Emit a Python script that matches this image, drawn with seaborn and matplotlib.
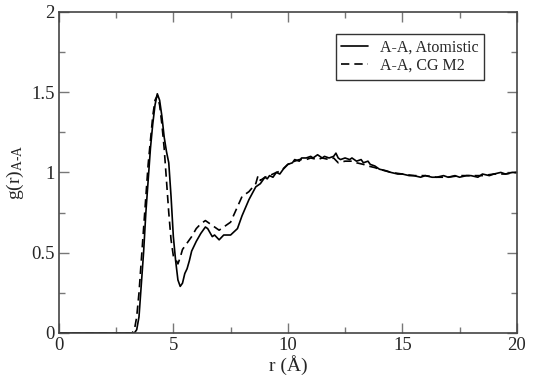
import numpy as np
import pandas as pd
import matplotlib
matplotlib.use('Agg')
import matplotlib.pyplot as plt
import seaborn as sns
from matplotlib.ticker import MultipleLocator

# Radial distribution data
r_atom = [0.0, 1.0, 2.0, 3.0, 3.3, 3.4, 3.5, 3.6, 3.7, 3.8, 3.9, 4.0, 4.1, 4.2, 4.3,
          4.4, 4.5, 4.6, 4.7, 4.8, 4.9, 5.0, 5.1, 5.2, 5.3, 5.4, 5.5, 5.6, 5.7,
          5.8, 6.0, 6.2, 6.4, 6.5, 6.7, 6.8, 7.0, 7.2, 7.5, 7.8, 8.0, 8.3, 8.6,
          8.8, 9.0, 9.1, 9.2, 9.35, 9.5, 9.65, 9.8, 10.0, 10.2, 10.3, 10.5, 10.6,
          10.8, 11.0, 11.1, 11.3, 11.5, 11.6, 11.8, 12.0, 12.1, 12.2, 12.3, 12.5,
          12.7, 12.8, 13.0, 13.2, 13.3, 13.5, 13.6, 13.8, 14.0, 14.3, 14.5, 14.8,
          15.0, 15.3, 15.5, 15.8, 16.0, 16.3, 16.5, 16.8, 17.0, 17.3, 17.5, 17.8,
          18.0, 18.3, 18.5, 18.8, 19.0, 19.3, 19.5, 19.8, 20.0]
g_atom = [0.0, 0.0, 0.0, 0.0, 0.0, 0.02, 0.1, 0.3, 0.5, 0.75, 0.95, 1.15, 1.3, 1.42, 1.49,
          1.45, 1.35, 1.22, 1.13, 1.06, 0.85, 0.6, 0.45, 0.33, 0.29, 0.31, 0.37, 0.40, 0.45,
          0.51, 0.57, 0.62, 0.66, 0.65, 0.60, 0.61, 0.58, 0.61, 0.61, 0.65, 0.73, 0.83, 0.91,
          0.93, 0.97, 0.96, 0.98, 0.97, 1.00, 0.99, 1.02, 1.05, 1.06, 1.08, 1.07, 1.09,
          1.09, 1.10, 1.09, 1.11, 1.09, 1.10, 1.09, 1.10, 1.12, 1.09, 1.08, 1.09,
          1.08, 1.09, 1.07, 1.08, 1.06, 1.07, 1.05, 1.04, 1.02, 1.01, 1.00, 0.99,
          0.99, 0.98, 0.98, 0.97, 0.98, 0.97, 0.97, 0.98, 0.97, 0.98, 0.97, 0.98,
          0.98, 0.97, 0.99, 0.98, 0.99, 1.00, 0.99, 1.00, 1.00]

r_cg = [0.0, 1.0, 2.0, 3.0, 3.2, 3.3, 3.4, 3.5, 3.6, 3.7, 3.8, 3.9, 4.0, 4.1, 4.2, 4.3,
        4.4, 4.5, 4.6, 4.7, 4.8, 4.9, 5.0, 5.1, 5.2, 5.3, 5.4, 5.6, 5.8, 6.0, 6.2,
        6.4, 6.6, 6.8, 7.0, 7.2, 7.5, 8.0, 8.3, 8.6, 8.7, 8.8, 9.0, 9.2, 9.5, 9.7,
        10.0, 10.3, 10.5, 10.8, 11.0, 11.3, 11.5, 11.8, 12.0, 12.2, 12.5, 12.8,
        13.0, 13.3, 13.5, 13.8, 14.0, 14.5, 15.0, 15.5, 16.0, 16.5, 17.0, 17.5,
        18.0, 18.5, 19.0, 19.5, 20.0]
g_cg = [0.0, 0.0, 0.0, 0.0, 0.0, 0.02, 0.1, 0.25, 0.45, 0.65, 0.85, 1.05, 1.2, 1.35, 1.45, 1.48,
        1.42, 1.3, 1.15, 0.95, 0.75, 0.58, 0.48, 0.46, 0.43, 0.47, 0.52, 0.56, 0.60, 0.65, 0.68,
        0.70, 0.68, 0.66, 0.64, 0.66, 0.69, 0.85, 0.88, 0.93, 0.98, 0.95, 0.97, 0.98, 1.00, 1.01,
        1.05, 1.07, 1.08, 1.08, 1.09, 1.08, 1.09, 1.08, 1.09, 1.06, 1.07, 1.07,
        1.06, 1.05, 1.04, 1.03, 1.02, 1.00, 0.99, 0.98, 0.98, 0.97, 0.97, 0.98,
        0.98, 0.98, 0.99, 0.99, 1.00]

df_atom = pd.DataFrame({'r': r_atom, 'g': g_atom})
df_cg = pd.DataFrame({'r': r_cg, 'g': g_cg})

sns.set_theme(style='ticks')
plt.rcParams['font.family'] = ['Liberation Serif', 'DejaVu Serif']
plt.rcParams['mathtext.fontset'] = 'custom'
plt.rcParams['mathtext.rm'] = 'Liberation Serif'
plt.rcParams['mathtext.it'] = 'Liberation Serif:italic'

fig = plt.figure(figsize=(5.35, 3.84), dpi=100)
ax = fig.add_axes([0.110, 0.133, 0.856, 0.836])

sns.lineplot(data=df_atom, x='r', y='g', ax=ax, color='black', linewidth=1.2,
             label='A-A, Atomistic')
sns.lineplot(data=df_cg, x='r', y='g', ax=ax, color='black', linewidth=1.2,
             linestyle=(0, (5, 3)), label='A-A, CG M2')

ax.set_xlim(0, 20)
ax.set_ylim(0, 2)
ax.xaxis.set_major_locator(MultipleLocator(5))
ax.xaxis.set_minor_locator(MultipleLocator(2.5))
ax.yaxis.set_minor_locator(MultipleLocator(0.25))
ax.set_yticks([0, 0.5, 1, 1.5, 2])
ax.set_yticklabels(['0', '0.5', '1', '1.5', '2'])

ax.tick_params(which='both', direction='in', top=True, right=True, color='#777777',
               labelsize=13.5, pad=3)
ax.tick_params(which='major', length=7, width=1)
ax.tick_params(which='minor', length=4, width=1)
for sp in ax.spines.values():
    sp.set_color('#444444')
    sp.set_linewidth(1.2)

ax.set_xlabel('r (Å)', fontsize=14, labelpad=1)
ax.set_ylabel(r'g(r)$_{\mathrm{A}\text{-}\mathrm{A}}$', fontsize=14, labelpad=4)

leg = ax.legend(loc='upper right', bbox_to_anchor=(0.928, 0.931), fontsize=11.5,
                frameon=True, fancybox=False, edgecolor='black', handlelength=1.7,
                handletextpad=0.7, borderpad=0.35, labelspacing=0.15, borderaxespad=0)
leg.get_frame().set_linewidth(1.0)

fig.savefig('out.png', dpi=100)
